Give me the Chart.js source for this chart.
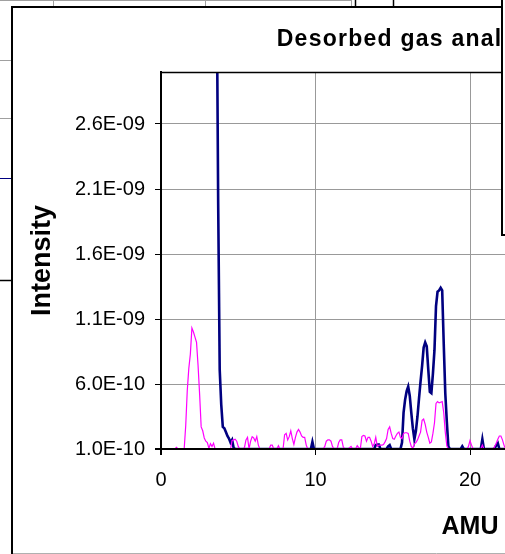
<!DOCTYPE html>
<html><head><meta charset="utf-8">
<script src="https://cdn.jsdelivr.net/npm/chart.js@4"></script>
<style>
html,body{margin:0;padding:0;background:#fff;overflow:hidden;width:505px;height:554px}
#wrap{position:absolute;left:0;top:0;width:860px;height:600px}
canvas{display:block}
</style></head><body>
<div id="wrap"><canvas id="c" width="860" height="600" style="width:860px;height:600px"></canvas></div>
<script>
const chartTitle = 'Desorbed gas analysis';
const xTitle = 'AMU';
const yTitle = 'Intensity';

const amu = [
0.0,0.1,0.2,0.3,0.4,0.5,0.6,0.7,0.8,0.9,
1.0,1.1,1.2,1.3,1.4,1.5,1.6,1.7,1.8,1.9,
2.0,2.1,2.2,2.3,2.4,2.5,2.6,2.7,2.8,2.9,
3.0,3.1,3.2,3.3,3.4,3.5,3.6,3.7,3.8,3.9,
4.0,4.1,4.2,4.3,4.4,4.5,4.6,4.7,4.8,4.9,
5.0,5.1,5.2,5.3,5.4,5.5,5.6,5.7,5.8,5.9,
6.0,6.1,6.2,6.3,6.4,6.5,6.6,6.7,6.8,6.9,
7.0,7.1,7.2,7.3,7.4,7.5,7.6,7.7,7.8,7.9,
8.0,8.1,8.2,8.3,8.4,8.5,8.6,8.7,8.8,8.9,
9.0,9.1,9.2,9.3,9.4,9.5,9.6,9.7,9.8,9.9,
10.0,10.1,10.2,10.3,10.4,10.5,10.6,10.7,10.8,10.9,
11.0,11.1,11.2,11.3,11.4,11.5,11.6,11.7,11.8,11.9,
12.0,12.1,12.2,12.3,12.4,12.5,12.6,12.7,12.8,12.9,
13.0,13.1,13.2,13.3,13.4,13.5,13.6,13.7,13.8,13.9,
14.0,14.1,14.2,14.3,14.4,14.5,14.6,14.7,14.8,14.9,
15.0,15.1,15.2,15.3,15.4,15.5,15.6,15.7,15.8,15.9,
16.0,16.1,16.2,16.3,16.4,16.5,16.6,16.7,16.8,16.9,
17.0,17.1,17.2,17.3,17.4,17.5,17.6,17.7,17.8,17.9,
18.0,18.1,18.2,18.3,18.4,18.5,18.6,18.7,18.8,18.9,
19.0,19.1,19.2,19.3,19.4,19.5,19.6,19.7,19.8,19.9,
20.0,20.1,20.2,20.3,20.4,20.5,20.6,20.7,20.8,20.9,
21.0,21.1,21.2,21.3,21.4,21.5,21.6,21.7,21.8,21.9,
22.0,22.1,22.2,22.3,22.4,22.5,22.6,22.7,22.8,22.9
];

const navySeries = [
null,null,null,null,null,null,null,null,null,null,
null,null,null,null,null,null,null,null,null,null,
null,null,null,null,null,null,null,null,null,null,
null,null,null,null,null,null,3.8e-9,2.0e-9,7.1e-10,4.4e-10,
2.7e-10,2.6e-10,2.3e-10,2.0e-10,1.8e-10,1.5e-10,1.7e-10,1.1e-10,1.0e-10,1.0e-10,
1.0e-10,1.0e-10,1.0e-10,1.0e-10,1.0e-10,1.0e-10,1.0e-10,1.0e-10,1.0e-10,1.0e-10,
1.0e-10,1.0e-10,1.0e-10,1.0e-10,1.0e-10,1.0e-10,1.0e-10,1.0e-10,1.0e-10,1.0e-10,
1.0e-10,1.0e-10,1.0e-10,1.0e-10,1.0e-10,1.0e-10,1.0e-10,1.0e-10,1.0e-10,1.0e-10,
1.0e-10,1.0e-10,1.0e-10,1.0e-10,1.0e-10,1.0e-10,1.0e-10,1.0e-10,1.0e-10,1.0e-10,
1.0e-10,1.0e-10,1.0e-10,1.0e-10,1.0e-10,1.0e-10,1.0e-10,1.0e-10,1.55e-10,1.0e-10,
1.0e-10,1.0e-10,1.0e-10,1.0e-10,1.0e-10,1.0e-10,1.0e-10,1.0e-10,1.0e-10,1.0e-10,
1.0e-10,1.0e-10,1.0e-10,1.0e-10,1.0e-10,1.0e-10,1.0e-10,1.0e-10,1.0e-10,1.0e-10,
1.0e-10,1.0e-10,1.0e-10,1.0e-10,1.0e-10,1.0e-10,1.0e-10,1.0e-10,1.0e-10,1.0e-10,
1.0e-10,1.0e-10,1.0e-10,1.0e-10,1.0e-10,1.0e-10,1.0e-10,1.0e-10,1.0e-10,1.3e-10,
1.35e-10,1.35e-10,1.0e-10,1.0e-10,1.0e-10,1.0e-10,1.0e-10,1.2e-10,1.3e-10,1.0e-10,
1.0e-10,1.0e-10,1.0e-10,1.0e-10,1.0e-10,1.0e-10,1.5e-10,3.8e-10,4.8e-10,5.45e-10,
5.8e-10,5.1e-10,3.8e-10,2.6e-10,1.75e-10,2.4e-10,3.5e-10,4.9e-10,6.2e-10,7.4e-10,
8.8e-10,9.2e-10,8.9e-10,7.1e-10,5.4e-10,5.3e-10,6.8e-10,8.6e-10,1.2e-9,1.31e-9,
1.32e-9,1.34e-9,1.32e-9,9.1e-10,5.3e-10,3.1e-10,1.2e-10,1.0e-10,1.0e-10,1.0e-10,
1.0e-10,1.0e-10,1.0e-10,1.0e-10,1.0e-10,1.2e-10,1.0e-10,1.0e-10,1.0e-10,1.0e-10,
1.0e-10,1.0e-10,1.0e-10,1.0e-10,1.0e-10,1.0e-10,1.0e-10,1.0e-10,1.75e-10,1.0e-10,
1.0e-10,1.0e-10,1.0e-10,1.0e-10,1.0e-10,1.0e-10,1.05e-10,1.3e-10,1.45e-10,1.0e-10,
1.0e-10,1.0e-10,1.0e-10,1.0e-10,1.0e-10,1.0e-10,1.0e-10,1.0e-10,1.0e-10,1.0e-10
];

const magentaSeries = [
1.0e-10,1.0e-10,1.0e-10,1.0e-10,1.0e-10,1.0e-10,1.0e-10,1.0e-10,1.0e-10,1.0e-10,
1.12e-10,1.0e-10,1.0e-10,1.0e-10,1.0e-10,1.0e-10,2.8e-10,5.5e-10,7.2e-10,8.3e-10,
1.03e-9,1.0e-9,9.6e-10,9.2e-10,7.4e-10,5.2e-10,2.7e-10,2.4e-10,1.85e-10,1.6e-10,
1.5e-10,1.05e-10,1.4e-10,1.2e-10,1.45e-10,1.0e-10,1.0e-10,1.0e-10,1.0e-10,1.0e-10,
1.0e-10,1.0e-10,1.0e-10,1.0e-10,1.0e-10,1.0e-10,1.65e-10,1.7e-10,1.75e-10,1.6e-10,
1.2e-10,1.0e-10,1.0e-10,1.0e-10,1.1e-10,1.7e-10,1.9e-10,1.0e-10,1.6e-10,1.95e-10,
1.85e-10,1.6e-10,1.95e-10,1.3e-10,1.0e-10,1.0e-10,1.0e-10,1.0e-10,1.0e-10,1.0e-10,
1.0e-10,1.3e-10,1.3e-10,1.0e-10,1.0e-10,1.0e-10,1.25e-10,1.0e-10,1.0e-10,1.0e-10,
2.1e-10,2.2e-10,1.7e-10,1.95e-10,2.4e-10,1.8e-10,1.35e-10,1.9e-10,2.3e-10,2.5e-10,
2.3e-10,2.0e-10,1.9e-10,1.9e-10,1.3e-10,1.0e-10,1.0e-10,1.0e-10,1.0e-10,1.0e-10,
1.0e-10,1.0e-10,1.0e-10,1.0e-10,1.0e-10,1.0e-10,1.2e-10,1.6e-10,1.7e-10,1.7e-10,
1.6e-10,1.2e-10,1.0e-10,1.0e-10,1.0e-10,1.5e-10,1.7e-10,1.7e-10,1.15e-10,1.0e-10,
1.0e-10,1.0e-10,1.1e-10,1.2e-10,1.0e-10,1.0e-10,1.0e-10,1.25e-10,1.1e-10,1.0e-10,
1.95e-10,2.05e-10,2.0e-10,1.6e-10,1.9e-10,1.9e-10,1.6e-10,1.2e-10,1.4e-10,1.9e-10,
1.2e-10,1.3e-10,1.3e-10,1.3e-10,1.35e-10,1.55e-10,1.8e-10,2.5e-10,2.7e-10,2.2e-10,
1.8e-10,1.75e-10,2.0e-10,2.2e-10,2.3e-10,1.9e-10,1.8e-10,2.2e-10,2.25e-10,2.25e-10,
2.2e-10,1.6e-10,1.2e-10,1.05e-10,1.4e-10,1.5e-10,1.7e-10,2.0e-10,2.3e-10,3.2e-10,
3.3e-10,2.9e-10,2.3e-10,1.9e-10,1.45e-10,1.55e-10,2.2e-10,3.0e-10,4.5e-10,4.65e-10,
4.55e-10,4.6e-10,4.65e-10,3.8e-10,2.3e-10,1.25e-10,1.0e-10,1.0e-10,1.0e-10,1.0e-10,
1.0e-10,1.0e-10,1.0e-10,1.0e-10,1.0e-10,1.0e-10,1.0e-10,1.0e-10,1.0e-10,1.2e-10,
1.65e-10,1.3e-10,1.0e-10,1.0e-10,1.0e-10,1.0e-10,1.0e-10,1.0e-10,1.3e-10,1.0e-10,
1.0e-10,1.0e-10,1.0e-10,1.0e-10,1.0e-10,1.0e-10,1.2e-10,1.45e-10,1.75e-10,2.0e-10,
2.0e-10,1.7e-10,1.3e-10,1.0e-10,1.0e-10,1.0e-10,1.0e-10,1.0e-10,1.0e-10,1.0e-10
];

const xTicks = [0, 10, 20, 30, 40];
const xTickLabels = ['0', '10', '20', '30', '40'];
const yTicks = [1.0e-10, 6.0e-10, 1.1e-9, 1.6e-9, 2.1e-9, 2.6e-9];
const yTickLabels = ['1.0E-10', '6.0E-10', '1.1E-09', '1.6E-09', '2.1E-09', '2.6E-09'];

const FONT = "'Liberation Sans', Arial, Helvetica, sans-serif";
Chart.defaults.font.family = FONT;
Chart.defaults.color = '#000';

const HAS_LS = ('letterSpacing' in CanvasRenderingContext2D.prototype);
const TITLE_SIZE = HAS_LS ? 23 : 25;

function line(ctx, x1, y1, x2, y2, color, w) {
  ctx.save();
  ctx.strokeStyle = color; ctx.lineWidth = w;
  ctx.beginPath(); ctx.moveTo(x1, y1); ctx.lineTo(x2, y2); ctx.stroke();
  ctx.restore();
}

function withSpacing(obj, ctx, spacing) {
  if (!obj || obj._lsWrapped || !HAS_LS) return;
  const orig = obj.draw;
  obj.draw = function () {
    ctx.save();
    ctx.letterSpacing = spacing;
    const r = orig.apply(this, arguments);
    ctx.restore();
    return r;
  };
  obj._lsWrapped = true;
}

const decor = {
  id: 'decor',
  afterLayout(chart) {
    withSpacing(chart.titleBlock, chart.ctx, '1.25px');
    withSpacing(chart.scales.x, chart.ctx, '0.6px');
    withSpacing(chart.scales.y, chart.ctx, '0.6px');
  },
  beforeDraw(chart) {
    const ctx = chart.ctx;
    ctx.save();
    ctx.fillStyle = '#fff';
    ctx.fillRect(0, 0, chart.width, chart.height);
    ctx.restore();
    // surrounding sheet lines
    line(ctx, 0, 0.5, 352, 0.5, '#a0a0a0', 1);
    line(ctx, 53.5, 0, 53.5, 6, '#a0a0a0', 1);
    line(ctx, 205.5, 0, 205.5, 6, '#a0a0a0', 1);
    line(ctx, 351.5, 0, 351.5, 6, '#a0a0a0', 1);
    line(ctx, 355.5, 0, 355.5, 6, '#000', 1.5);
    line(ctx, 393.5, 0, 393.5, 6, '#000', 1.5);
    line(ctx, 0, 60.5, 11, 60.5, '#a0a0a0', 1);
    line(ctx, 0, 118.5, 11, 118.5, '#a0a0a0', 1);
    line(ctx, 0, 178.5, 11, 178.5, '#000080', 1);
    line(ctx, 0, 280.5, 11, 280.5, '#000', 1.5);
    // chart frame
    line(ctx, 12, 6, 12, 600, '#000', 2);
    line(ctx, 11, 7, 860, 7, '#000', 2);
    line(ctx, 13, 553.5, 860, 553.5, '#b0b0b0', 1);
  },
  afterDraw(chart) {
    const ctx = chart.ctx;
    const a = chart.chartArea;
    line(ctx, a.left, a.top + 0.5, a.right, a.top + 0.5, '#000', 1.5);
    line(ctx, a.left - 6, a.bottom, a.right, a.bottom, '#000', 2);
    line(ctx, a.left, a.top, a.left, a.bottom + 6, '#000', 2);
    // legend box (overlapping, contents outside view)
    ctx.save();
    ctx.fillStyle = '#fff';
    ctx.fillRect(502, -5, 400, 240);
    ctx.restore();
    line(ctx, 502, -5, 502, 236, '#000', 2);
    line(ctx, 501, 235, 860, 235, '#000', 2);
  }
};

new Chart(document.getElementById('c').getContext('2d'), {
  type: 'line',
  data: {
    datasets: [
      {
        label: 'Series 2',
        data: amu.map((x, i) => ({ x: x, y: magentaSeries[i] })),
        borderColor: '#ff00ff', backgroundColor: '#ff00ff',
        borderWidth: 1.2, pointRadius: 0, tension: 0, fill: false
      },
      {
        label: 'Series 1',
        data: amu.map((x, i) => ({ x: x, y: navySeries[i] })),
        borderColor: '#000080', backgroundColor: '#000080',
        borderWidth: 2.6, pointRadius: 0, tension: 0, fill: false, spanGaps: false
      }
    ]
  },
  options: {
    responsive: false, animation: false, devicePixelRatio: 1,
    layout: { padding: { left: 50, right: 81, top: 0, bottom: 0 } },
    plugins: {
      legend: { display: false },
      tooltip: { enabled: false },
      title: {
        display: true, text: chartTitle, color: '#000',
        font: { size: TITLE_SIZE, weight: 'bold', lineHeight: 1.2 },
        padding: { top: 40 - TITLE_SIZE * 0.6, bottom: 72 - (40 - TITLE_SIZE * 0.6) - TITLE_SIZE * 1.2 }
      }
    },
    scales: {
      x: {
        type: 'linear', min: 0, max: 40,
        afterBuildTicks: s => { s.ticks = xTicks.map(v => ({ value: v })); },
        afterFit: s => { s.height = 151; },
        ticks: { autoSkip: false, maxRotation: 0, padding: 13, font: { size: 20 }, color: '#000',
          callback: (v, i) => xTickLabels[i] },
        grid: { color: '#999999', lineWidth: 1, tickLength: 6, tickColor: '#000' },
        border: { color: '#000', width: 2 },
        title: { display: true, text: xTitle, color: '#000', font: { size: 25, weight: 'bold' }, padding: { top: 0, bottom: 58 } }
      },
      y: {
        type: 'linear', min: 1.0e-10, max: 3.0e-9,
        afterBuildTicks: s => { s.ticks = yTicks.map(v => ({ value: v })); },
        afterFit: s => { s.width = 111; },
        ticks: { padding: 10, font: { size: 20 }, color: '#000',
          callback: (v, i) => yTickLabels[i] },
        grid: { color: '#999999', lineWidth: 1, tickLength: 6, tickColor: '#000' },
        border: { color: '#000', width: 2 },
        title: { display: true, text: yTitle, color: '#000', font: { size: 27, weight: 'bold' }, padding: { top: -23.2, bottom: 0 } }
      }
    }
  },
  plugins: [decor]
});
</script>
</body></html>
